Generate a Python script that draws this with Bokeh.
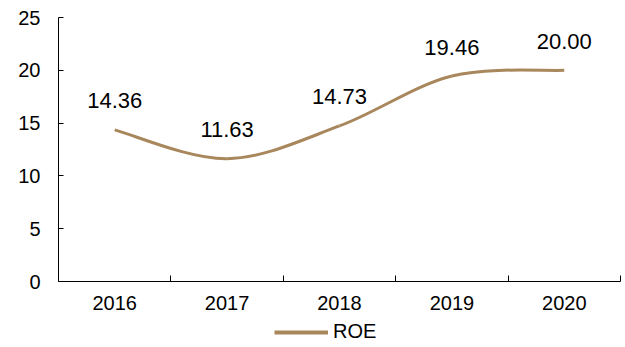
from bokeh.plotting import figure
from bokeh.layouts import column
from bokeh.models import Range1d, FixedTicker, Legend, LegendItem, ColumnDataSource
from bokeh.core.properties import value
from bokeh.embed import file_html
from bokeh.resources import INLINE

years = ["2016", "2017", "2018", "2019", "2020"]
roe = [14.36, 11.63, 14.73, 19.46, 20.00]
roe_labels = ["14.36", "11.63", "14.73", "19.46", "20.00"]
y_ticks = [0, 5, 10, 15, 20, 25]

FONT = "Liberation Sans"
COLOR = "#A8875C"

xs = [i + 0.5 for i in range(len(years))]

# smooth (Excel-style) bezier segments through the data points
n = len(xs)
seg = dict(x0=[], y0=[], x1=[], y1=[], cx0=[], cy0=[], cx1=[], cy1=[])
for i in range(n - 1):
    p0 = (xs[max(i - 1, 0)], roe[max(i - 1, 0)])
    p1 = (xs[i], roe[i])
    p2 = (xs[i + 1], roe[i + 1])
    p3 = (xs[min(i + 2, n - 1)], roe[min(i + 2, n - 1)])
    seg["x0"].append(p1[0]); seg["y0"].append(p1[1])
    seg["x1"].append(p2[0]); seg["y1"].append(p2[1])
    seg["cx0"].append(p1[0] + (p2[0] - p0[0]) / 6)
    seg["cy0"].append(p1[1] + (p2[1] - p0[1]) / 6)
    seg["cx1"].append(p2[0] - (p3[0] - p1[0]) / 6)
    seg["cy1"].append(p2[1] - (p3[1] - p1[1]) / 6)

p = figure(width=625, height=320, output_backend="svg", toolbar_location=None,
           x_range=Range1d(0, n), y_range=Range1d(0, 25),
           min_border_left=58, min_border_right=5, min_border_top=17, min_border_bottom=39)
p.outline_line_color = None
p.xgrid.visible = False
p.ygrid.visible = False
p.background_fill_color = "white"
p.border_fill_color = "white"

p.bezier(x0="x0", y0="y0", x1="x1", y1="y1", cx0="cx0", cy0="cy0", cx1="cx1", cy1="cy1",
         source=ColumnDataSource(seg), line_color=COLOR, line_width=3)

src = ColumnDataSource(dict(x=xs, y=roe, t=roe_labels))
p.text(x="x", y="y", text="t", source=src, text_font=value(FONT), text_font_size="22px",
       text_align="center", text_baseline="middle", y_offset=-29, text_color="black")

# axes
p.yaxis.ticker = FixedTicker(ticks=y_ticks)
p.yaxis.major_tick_in = 5
p.yaxis.major_tick_out = 0
p.yaxis.minor_tick_line_color = None
p.yaxis.major_label_standoff = 18
p.yaxis.major_label_text_font = FONT
p.yaxis.major_label_text_font_size = "20px"
p.yaxis.major_label_text_color = "black"
p.yaxis.axis_line_color = "black"
p.yaxis.major_tick_line_color = "black"

p.xaxis.ticker = FixedTicker(ticks=xs, minor_ticks=list(range(n + 1)))
p.xaxis.major_label_overrides = {x: y for x, y in zip(xs, years)}
p.xaxis.major_tick_in = 0
p.xaxis.major_tick_out = 0
p.xaxis.minor_tick_in = 6
p.xaxis.minor_tick_out = 0
p.xaxis.minor_tick_line_color = "black"
p.xaxis.major_label_standoff = 14
p.xaxis.major_label_text_font = FONT
p.xaxis.major_label_text_font_size = "20px"
p.xaxis.major_label_text_color = "black"
p.xaxis.axis_line_color = "black"

# legend strip
pl = figure(width=625, height=27, output_backend="svg", toolbar_location=None,
            x_range=Range1d(0, 1), y_range=Range1d(0, 1),
            min_border_left=0, min_border_right=0, min_border_top=0, min_border_bottom=0)
pl.axis.visible = False
pl.grid.visible = False
pl.outline_line_color = None
proxy = pl.line(x=[float("nan")], y=[float("nan")], line_color=COLOR, line_width=4)
legend = Legend(items=[LegendItem(label="ROE", renderers=[proxy])], location=(216, 4),
                orientation="horizontal", padding=2, margin=0, spacing=0,
                glyph_width=54, glyph_height=20, label_height=20,
                label_standoff=5, border_line_color=None,
                background_fill_alpha=0, label_text_font=FONT, label_text_font_size="20px",
                label_text_color="black")
pl.add_layout(legend, "center")

open("out.html", "w").write(file_html(column(p, pl, spacing=0), INLINE))
